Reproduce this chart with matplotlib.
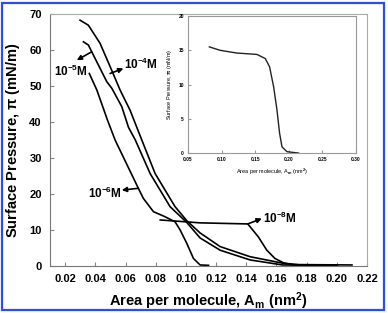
import matplotlib
matplotlib.use('Agg')
import matplotlib.pyplot as plt
from matplotlib.patches import Rectangle

plt.rcParams['font.family'] = ['Liberation Sans', 'DejaVu Sans']
plt.rcParams['font.weight'] = 'bold'
plt.rcParams['mathtext.fontset'] = 'custom'
plt.rcParams['mathtext.rm'] = 'Liberation Sans:bold'
plt.rcParams['mathtext.bf'] = 'Liberation Sans:bold'
plt.rcParams['mathtext.it'] = 'Liberation Sans:bold'
plt.rcParams['mathtext.default'] = 'bf'

# isotherms, main panel
x_1e4 = [0.0299, 0.0354, 0.0431, 0.0498, 0.0564, 0.0630, 0.0708, 0.0796, 0.0928, 0.1006,
         0.1094, 0.1227, 0.1425, 0.1640, 0.1750, 0.2100]
y_1e4 = [68.3, 66.9, 61.9, 55.4, 48.9, 43.3, 35.0, 25.7, 16.5, 12.6,
         9.2, 5.4, 2.6, 0.8, 0.4, 0.3]

x_1e5 = [0.0321, 0.0354, 0.0410, 0.0476, 0.0509, 0.0575, 0.0620, 0.0665, 0.0763, 0.0895,
         0.1006, 0.1094, 0.1227, 0.1425, 0.1640, 0.2000]
y_1e5 = [62.3, 61.4, 56.7, 51.2, 49.4, 44.3, 38.5, 35.0, 25.7, 16.5,
         12.1, 7.8, 4.4, 1.7, 0.3, 0.2]

x_1e6 = [0.0360, 0.0410, 0.0480, 0.0531, 0.0685, 0.0718, 0.0785, 0.0862, 0.0928, 0.0962,
         0.1006, 0.1050, 0.1094, 0.1150]
y_1e6 = [53.5, 48.9, 40.6, 35.0, 21.6, 18.8, 15.1, 13.7, 12.3, 10.0,
         6.3, 2.1, 0.3, 0.2]

x_1e8 = [0.0830, 0.1094, 0.1410, 0.1480, 0.1536, 0.1590, 0.1646, 0.1710, 0.2000]
y_1e8 = [12.8, 12.0, 11.7, 8.1, 4.4, 2.1, 0.9, 0.3, 0.2]

# inset isotherm
x_in = [0.0818, 0.0978, 0.1227, 0.1525, 0.1650, 0.1714, 0.1774, 0.1824, 0.1863, 0.1899,
        0.1973, 0.2146]
y_in = [15.5, 15.0, 14.6, 14.4, 13.8, 12.6, 9.7, 6.3, 2.9, 0.9,
        0.2, 0.0]

labels = ['10$^{-4}$M', '10$^{-5}$M', '10$^{-6}$M', '10$^{-8}$M']

fig = plt.figure(figsize=(3.88, 3.13), dpi=100)
ax = fig.add_axes([0.129, 0.150, 0.817, 0.805])

for xs, ys in [(x_1e4, y_1e4), (x_1e5, y_1e5), (x_1e6, y_1e6), (x_1e8, y_1e8)]:
    ax.plot(xs, ys, color='black', lw=1.2)

ax.set_xlim(0.01, 0.22)
ax.set_ylim(0, 70)
ax.set_xticks([0.02, 0.04, 0.06, 0.08, 0.10, 0.12, 0.14, 0.16, 0.18, 0.20, 0.22])
ax.set_xticklabels(['%.2f' % t for t in ax.get_xticks()])
ax.set_yticks(range(0, 71, 10))
ax.tick_params(direction='in', length=3, color='#888888', labelsize=8, pad=6)
for s in ['left', 'bottom']:
    ax.spines[s].set_color('#777777')
for s in ['top', 'right']:
    ax.spines[s].set_color('#aaaaaa')
ax.set_xlabel('Area per molecule, A$_m$ (nm$^2$)', fontsize=10.5, fontweight='bold', labelpad=4)
ax.set_ylabel('Surface Pressure, $\\pi$ (mN/m)', fontsize=10.5, fontweight='bold', labelpad=5)

# curve labels with arrows
arrow = dict(arrowstyle='-|>', color='black', lw=1.2, mutation_scale=7, shrinkA=0, shrinkB=0)
ax.annotate('', xy=(0.0586, 54.9), xytext=(0.0498, 53.5), arrowprops=arrow)
ax.text(0.0590, 56.0, labels[0], fontsize=8.5, va='center', ha='left')
ax.annotate('', xy=(0.0277, 57.2), xytext=(0.0375, 59.5), arrowprops=arrow)
ax.text(0.0240, 54.2, labels[1], fontsize=8.5, va='center', ha='center')
ax.annotate('', xy=(0.0575, 21.1), xytext=(0.0685, 21.6), arrowprops=arrow)
ax.text(0.0575, 20.3, labels[2], fontsize=8.5, va='center', ha='right')
ax.annotate('', xy=(0.1503, 13.2), xytext=(0.1410, 11.7), arrowprops=arrow)
ax.text(0.1510, 13.3, labels[3], fontsize=8.5, va='center', ha='left')

# inset
axi = fig.add_axes([0.4845, 0.511, 0.433, 0.4377])
axi.plot(x_in, y_in, color='#222222', lw=1.0)
axi.set_xlim(0.05, 0.30)
axi.set_ylim(0, 20)
axi.set_xticks([0.05, 0.10, 0.15, 0.20, 0.25, 0.30])
axi.set_xticklabels(['%.2f' % t for t in axi.get_xticks()])
axi.set_yticks([0, 5, 10, 15, 20])
axi.tick_params(direction='in', length=2, color='#999999', labelsize=3.5, pad=3)
for s in axi.spines.values():
    s.set_color('#999999')
axi.set_xlabel('Area per molecule, A$_m$ (nm$^2$)', fontsize=4, labelpad=3)
axi.set_ylabel('Surface Pressure, $\\pi$ (mN/m)', fontsize=4, labelpad=3)

# blue frame round the picture
fig.patches.append(Rectangle((0.0064, 0.0096), 0.9833, 0.9824, transform=fig.transFigure,
                             fill=False, edgecolor='#2b4cf0', lw=1.6))

fig.savefig('out.png', dpi=100)
